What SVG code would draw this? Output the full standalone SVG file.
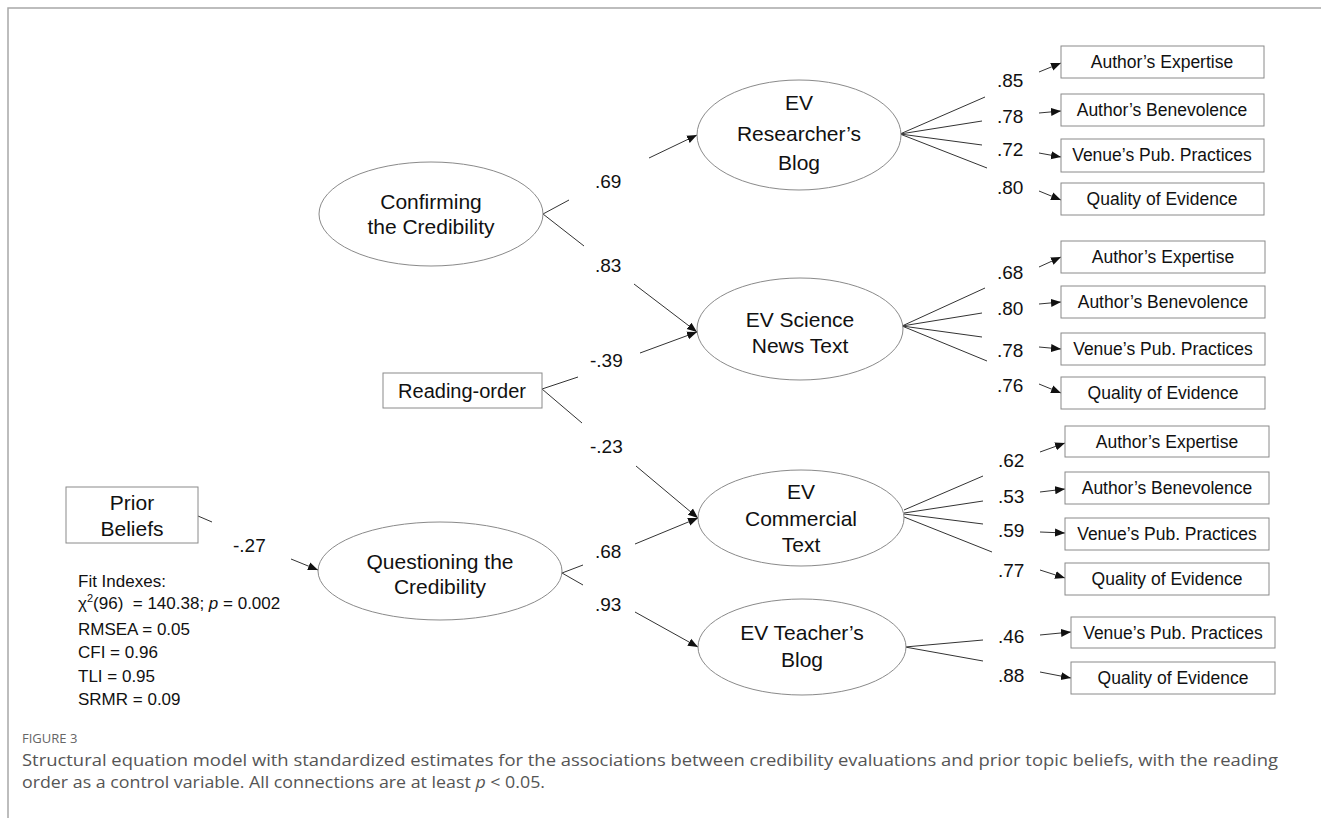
<svg xmlns="http://www.w3.org/2000/svg" width="1321" height="818" viewBox="0 0 1321 818">
<defs>
<marker id="ah" viewBox="0 0 10 10" refX="10" refY="5" markerWidth="10" markerHeight="10" markerUnits="userSpaceOnUse" orient="auto">
<path d="M0,1 L10,5 L0,9 Z" fill="#111"/>
</marker>
<style>
.frame{stroke:#a8a8a8;stroke-width:1.5;fill:none}
.ell{fill:#fff;stroke:#8a8a8a;stroke-width:1}
.box{fill:#fff;stroke:#8a8a8a;stroke-width:1}
.ln{stroke:#333;stroke-width:1;fill:none}
.ar{stroke:#333;stroke-width:1;fill:none;marker-end:url(#ah)}
.nt{font-family:"Liberation Sans",Arial,sans-serif;font-size:21px;fill:#111;text-anchor:middle}
.bt{font-family:"Liberation Sans",Arial,sans-serif;font-size:17.5px;fill:#111;text-anchor:middle}
.lb{font-family:"Liberation Sans",Arial,sans-serif;font-size:19px;fill:#111}
.fit{font-family:"Liberation Sans",Arial,sans-serif;font-size:17px;fill:#111}
.cap{font-family:"Open Sans","Liberation Sans",sans-serif;font-size:17px;fill:#555}
.fig{font-family:"Open Sans","Liberation Sans",sans-serif;font-size:13px;fill:#666}
</style>
</defs>
<rect width="1321" height="818" fill="#fff"/>
<path class="frame" d="M8,818 L8,8 L1321,8"/>

<g id="connectors">
<line class="ln" x1="543" y1="214" x2="569" y2="200"/>
<line class="ar" x1="649" y1="158" x2="697" y2="135"/>
<line class="ln" x1="543" y1="214" x2="584" y2="246"/>
<line class="ar" x1="634" y1="284" x2="697" y2="332"/>
<line class="ln" x1="542" y1="389" x2="578" y2="377"/>
<line class="ar" x1="640" y1="353" x2="697" y2="332"/>
<line class="ln" x1="542" y1="389" x2="582" y2="423"/>
<line class="ar" x1="636" y1="466" x2="698" y2="518"/>
<line class="ln" x1="562" y1="573" x2="583" y2="565"/>
<line class="ar" x1="635" y1="544" x2="698" y2="518"/>
<line class="ln" x1="562" y1="573" x2="583" y2="585"/>
<line class="ar" x1="635" y1="612" x2="698" y2="647"/>
<line class="ln" x1="198" y1="516" x2="212" y2="522"/>
<line class="ar" x1="291" y1="559" x2="318" y2="570"/>
<line class="ln" x1="900" y1="134" x2="985" y2="97"/>
<line class="ln" x1="900" y1="134" x2="982" y2="121"/>
<line class="ln" x1="900" y1="134" x2="982" y2="145"/>
<line class="ln" x1="900" y1="134" x2="987" y2="168"/>
<line class="ar" x1="1039" y1="72" x2="1061" y2="63"/>
<line class="ar" x1="1039" y1="113" x2="1061" y2="111"/>
<line class="ar" x1="1039" y1="153" x2="1061" y2="157"/>
<line class="ar" x1="1039" y1="191" x2="1061" y2="200"/>
<line class="ln" x1="902" y1="326" x2="985" y2="288"/>
<line class="ln" x1="902" y1="326" x2="982" y2="313"/>
<line class="ln" x1="902" y1="326" x2="982" y2="337"/>
<line class="ln" x1="902" y1="326" x2="987" y2="361"/>
<line class="ar" x1="1039" y1="267" x2="1061" y2="257"/>
<line class="ar" x1="1039" y1="304" x2="1061" y2="302"/>
<line class="ar" x1="1039" y1="347" x2="1061" y2="349"/>
<line class="ar" x1="1039" y1="384" x2="1061" y2="393"/>
<line class="ln" x1="904" y1="510" x2="983" y2="476"/>
<line class="ln" x1="904" y1="513" x2="983" y2="501"/>
<line class="ln" x1="904" y1="514" x2="983" y2="524"/>
<line class="ln" x1="904" y1="517" x2="992" y2="552"/>
<line class="ar" x1="1040" y1="452" x2="1065" y2="443"/>
<line class="ar" x1="1040" y1="492" x2="1065" y2="489"/>
<line class="ar" x1="1040" y1="532" x2="1065" y2="533"/>
<line class="ar" x1="1040" y1="570" x2="1065" y2="578"/>
<line class="ln" x1="905" y1="647" x2="983" y2="640"/>
<line class="ln" x1="905" y1="647" x2="983" y2="661"/>
<line class="ar" x1="1040" y1="635" x2="1071" y2="632"/>
<line class="ar" x1="1040" y1="672" x2="1071" y2="678"/>
</g>

<g id="edge-labels">
<text class="lb" x="595" y="188">.69</text>
<text class="lb" x="595" y="272">.83</text>
<text class="lb" x="590" y="367">-.39</text>
<text class="lb" x="590" y="453">-.23</text>
<text class="lb" x="595" y="558">.68</text>
<text class="lb" x="595" y="611">.93</text>
<text class="lb" x="233" y="552">-.27</text>
<text class="lb" x="997" y="87">.85</text>
<text class="lb" x="997" y="123">.78</text>
<text class="lb" x="997" y="156">.72</text>
<text class="lb" x="997" y="194">.80</text>
<text class="lb" x="997" y="279">.68</text>
<text class="lb" x="997" y="315">.80</text>
<text class="lb" x="997" y="357">.78</text>
<text class="lb" x="997" y="392">.76</text>
<text class="lb" x="998" y="467">.62</text>
<text class="lb" x="998" y="503">.53</text>
<text class="lb" x="998" y="537">.59</text>
<text class="lb" x="998" y="577">.77</text>
<text class="lb" x="998" y="643">.46</text>
<text class="lb" x="998" y="682">.88</text>
</g>

<g id="confirming">
<ellipse class="ell" cx="431" cy="214" rx="112" ry="52"/>
<text class="nt" x="431" y="209">Confirming</text>
<text class="nt" x="431" y="234">the Credibility</text>
</g>
<g id="questioning">
<ellipse class="ell" cx="440" cy="571" rx="122" ry="49"/>
<text class="nt" x="440" y="569">Questioning the</text>
<text class="nt" x="440" y="594">Credibility</text>
</g>
<g id="reading-order">
<rect class="box" x="383" y="373" width="159" height="35"/>
<text class="nt" x="462" y="398" style="font-size:20px">Reading-order</text>
</g>
<g id="prior-beliefs">
<rect class="box" x="66" y="487" width="132" height="56"/>
<text class="nt" x="132" y="510">Prior</text>
<text class="nt" x="132" y="536">Beliefs</text>
</g>
<g id="ev-researcher">
<ellipse class="ell" cx="799" cy="135" rx="102" ry="55"/>
<text class="nt" x="799" y="110">EV</text>
<text class="nt" x="799" y="141">Researcher’s</text>
<text class="nt" x="799" y="170">Blog</text>
</g>
<g id="ev-science">
<ellipse class="ell" cx="800" cy="329" rx="103" ry="51"/>
<text class="nt" x="800" y="327">EV Science</text>
<text class="nt" x="800" y="353">News Text</text>
</g>
<g id="ev-commercial">
<ellipse class="ell" cx="801" cy="518" rx="103" ry="48"/>
<text class="nt" x="801" y="499">EV</text>
<text class="nt" x="801" y="526">Commercial</text>
<text class="nt" x="801" y="552">Text</text>
</g>
<g id="ev-teacher">
<ellipse class="ell" cx="802" cy="647" rx="104" ry="48"/>
<text class="nt" x="802" y="640">EV Teacher’s</text>
<text class="nt" x="802" y="667">Blog</text>
</g>

<g id="ind-g1">
<rect class="box" x="1061" y="46" width="203" height="32"/><text class="bt" x="1162" y="68">Author’s Expertise</text>
<rect class="box" x="1061" y="94" width="203" height="32"/><text class="bt" x="1162" y="116">Author’s Benevolence</text>
<rect class="box" x="1061" y="139" width="203" height="33"/><text class="bt" x="1162" y="161">Venue’s Pub. Practices</text>
<rect class="box" x="1061" y="183" width="203" height="32"/><text class="bt" x="1162" y="205">Quality of Evidence</text>
</g>
<g id="ind-g2">
<rect class="box" x="1061" y="241" width="204" height="32"/><text class="bt" x="1163" y="263">Author’s Expertise</text>
<rect class="box" x="1061" y="286" width="204" height="32"/><text class="bt" x="1163" y="308">Author’s Benevolence</text>
<rect class="box" x="1061" y="333" width="204" height="32"/><text class="bt" x="1163" y="355">Venue’s Pub. Practices</text>
<rect class="box" x="1061" y="377" width="204" height="32"/><text class="bt" x="1163" y="399">Quality of Evidence</text>
</g>
<g id="ind-g3">
<rect class="box" x="1065" y="426" width="204" height="31"/><text class="bt" x="1167" y="448">Author’s Expertise</text>
<rect class="box" x="1065" y="472" width="204" height="32"/><text class="bt" x="1167" y="494">Author’s Benevolence</text>
<rect class="box" x="1065" y="518" width="204" height="32"/><text class="bt" x="1167" y="540">Venue’s Pub. Practices</text>
<rect class="box" x="1065" y="563" width="204" height="32"/><text class="bt" x="1167" y="585">Quality of Evidence</text>
</g>
<g id="ind-g4">
<rect class="box" x="1071" y="617" width="204" height="31"/><text class="bt" x="1173" y="639">Venue’s Pub. Practices</text>
<rect class="box" x="1071" y="662" width="204" height="32"/><text class="bt" x="1173" y="684">Quality of Evidence</text>
</g>

<g id="fit-indexes">
<text class="fit" x="78" y="587">Fit Indexes:</text>
<text class="fit" x="78" y="609">χ<tspan font-size="11" dy="-7">2</tspan><tspan dy="7">(96)&#160; = 140.38; </tspan><tspan font-style="italic">p</tspan> = 0.002</text>
<text class="fit" x="78" y="635">RMSEA = 0.05</text>
<text class="fit" x="78" y="658">CFI = 0.96</text>
<text class="fit" x="78" y="682">TLI = 0.95</text>
<text class="fit" x="78" y="705">SRMR = 0.09</text>
</g>

<g id="caption">
<text class="fig" x="22" y="743">FIGURE 3</text>
<text class="cap" x="22" y="766" textLength="1256" lengthAdjust="spacingAndGlyphs">Structural equation model with standardized estimates for the associations between credibility evaluations and prior topic beliefs, with the reading</text>
<text class="cap" x="22" y="788" textLength="523" lengthAdjust="spacingAndGlyphs">order as a control variable. All connections are at least <tspan font-style="italic">p</tspan> &lt; 0.05.</text>
</g>
</svg>
